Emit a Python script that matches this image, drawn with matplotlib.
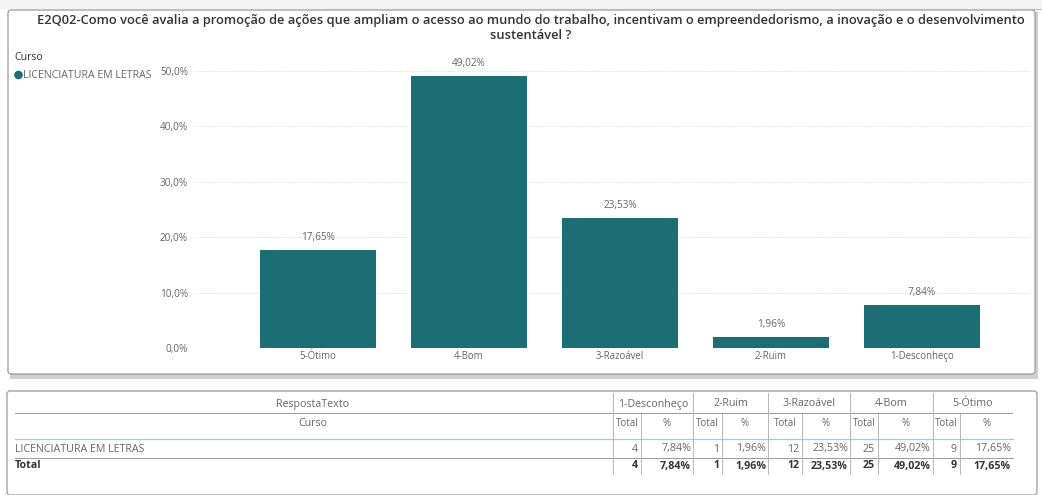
import matplotlib
matplotlib.use("Agg")
import matplotlib.pyplot as plt
from matplotlib.patches import FancyBboxPatch, Rectangle
from matplotlib.lines import Line2D

plt.rcParams['font.family'] = ['Open Sans', 'DejaVu Sans']

# ---- data -------------------------------------------------------------
title = ("E2Q02-Como você avalia a promoção de ações que ampliam o acesso ao mundo do trabalho, "
         "incentivam o empreendedorismo, a inovação e o desenvolvimento\nsustentável ?")
legend_title = "Curso"
series_name = "LICENCIATURA EM LETRAS"
chart_categories = ["5-Ótimo", "4-Bom", "3-Razoável", "2-Ruim", "1-Desconheço"]
chart_percent = [17.65, 49.02, 23.53, 1.96, 7.84]
y_ticks = [0, 10, 20, 30, 40, 50]

table_categories = ["1-Desconheço", "2-Ruim", "3-Razoável", "4-Bom", "5-Ótimo"]
table_totals = [4, 1, 12, 25, 9]
table_percent = [7.84, 1.96, 23.53, 49.02, 17.65]
row_label = "LICENCIATURA EM LETRAS"
total_label = "Total"

BAR = "#1b6e73"
GRID = "#d9d9d9"
TXT = "#666666"
DARK = "#333333"

W, H = 1042, 495
fig = plt.figure(figsize=(W / 100, H / 100), dpi=100)
fig.patch.set_facecolor("white")

# overlay in pixel coordinates for panels, headers and the table
ov = fig.add_axes([0, 0, 1, 1], zorder=0)
ov.set_xlim(0, W)
ov.set_ylim(H, 0)
ov.axis("off")


def fmt(v, d=2):
    return f"{v:.{d}f}".replace(".", ",") + "%"


# top strip
ov.add_patch(Rectangle((0, 0), W, 9, facecolor="#f3f3f3", edgecolor="none"))
ov.add_line(Line2D([325, W], [9, 9], color="#bbbbbb", lw=0.8))

# chart panel with shadow
ov.add_patch(Rectangle((10, 12), 1028, 367, facecolor="#cfcfcf", edgecolor="none"))
ov.add_patch(FancyBboxPatch((8, 10), 1027, 364, boxstyle="round,pad=0,rounding_size=3",
                            facecolor="white", edgecolor="#9a9a9a", lw=0.9))

# table panel
ov.add_patch(FancyBboxPatch((7, 391), 1030, 104, boxstyle="round,pad=0,rounding_size=3",
                            facecolor="white", edgecolor="#9a9a9a", lw=0.9))

# chart title and legend
ov.text(531, 28, title, ha="center", va="center", fontsize=9.3, color=DARK,
        fontweight="semibold", linespacing=1.25)
ov.text(14, 58, legend_title, ha="left", va="center", fontsize=7.6, color=DARK)
ov.add_patch(plt.Circle((18.5, 75), 3.6, color=BAR))
ov.text(23, 75, series_name, ha="left", va="center", fontsize=7.6, color=TXT)

# ---- bar chart -------------------------------------------------------
x0, x1 = 195, 1030
ytop, ybot = 71, 348
ax = fig.add_axes([x0 / W, 1 - ybot / H, (x1 - x0) / W, (ybot - ytop) / H], zorder=2)
ax.patch.set_alpha(0)
xs = list(range(len(chart_categories)))
bars = ax.bar(xs, chart_percent, width=0.77, color=BAR, zorder=3)
ax.set_xlim(-0.815, 4.715)
ax.set_ylim(0, 50)
ax.set_yticks(y_ticks)
ax.set_yticklabels([fmt(t, 1) for t in y_ticks], fontsize=7.2, color=TXT)
ax.set_xticks(xs)
ax.set_xticklabels(chart_categories, fontsize=6.9, color=TXT)
ax.tick_params(length=0, pad=2)
ax.tick_params(axis="y", pad=5)
ax.grid(axis="y", color=GRID, lw=0.7, ls=(0, (1, 1.5)), zorder=0)
for s in ax.spines.values():
    s.set_visible(False)
for b, v in zip(bars, chart_percent):
    ax.annotate(fmt(v), (b.get_x() + b.get_width() / 2, v), xytext=(0, 5),
                textcoords="offset points", ha="center", va="bottom",
                fontsize=7.2, color=TXT, clip_on=False)

# ---- matrix table ----------------------------------------------------
col_left = [613, 693, 768, 850, 933]
col_mid = [641, 722, 802, 878, 960]
col_right = [693, 768, 850, 933, 1013]
y_h1, y_h2, y_row, y_tot = 404, 424, 449, 466
line_h1, line_blue, line_row, bottom = 413, 439, 458, 474
FS = 7.7

ov.text(313, y_h1, "RespostaTexto", ha="center", va="center", fontsize=FS, color=TXT)
ov.text(313, y_h2, "Curso", ha="center", va="center", fontsize=FS, color=TXT)
ov.add_line(Line2D([15, 612], [line_h1, line_h1], color="#9a9a9a", lw=0.7))
ov.add_line(Line2D([15, 1013], [line_blue, line_blue], color="#9fcbe6", lw=0.9))
ov.add_line(Line2D([15, 1013], [line_row, line_row], color="#9a9a9a", lw=0.7))
ov.add_patch(Rectangle((15, line_blue + 0.5), 998, line_row - line_blue - 1,
                       facecolor="#fffdf7", edgecolor="none", zorder=0))
ov.text(15, y_row, row_label, ha="left", va="center", fontsize=FS, color=TXT)
ov.text(15, y_tot, total_label, ha="left", va="center", fontsize=FS, color=DARK,
        fontweight="bold")

for i, cat in enumerate(table_categories):
    l, m, r = col_left[i], col_mid[i], col_right[i]
    ov.text((l + r) / 2, y_h1, cat, ha="center", va="center", fontsize=FS, color=TXT)
    ov.add_line(Line2D([l + 1, r - 1], [line_h1, line_h1], color="#9a9a9a", lw=0.7))
    ov.add_line(Line2D([l, l], [393, bottom], color="#b8b8b8", lw=0.7))
    ov.add_line(Line2D([m, m], [line_h1 + 1, bottom], color="#b8b8b8", lw=0.7))
    ov.text((l + m) / 2, y_h2, "Total", ha="center", va="center", fontsize=7, color=TXT)
    ov.text((m + r) / 2, y_h2, "%", ha="center", va="center", fontsize=7, color=TXT)
    ov.text(m - 3, y_row, str(table_totals[i]), ha="right", va="center", fontsize=FS, color=TXT)
    ov.text(r - 2, y_row, fmt(table_percent[i]), ha="right", va="center", fontsize=FS, color=TXT)
    ov.text(m - 3, y_tot, str(table_totals[i]), ha="right", va="center", fontsize=FS,
            color=DARK, fontweight="bold")
    ov.text(r - 2, y_tot, fmt(table_percent[i]), ha="right", va="center", fontsize=FS,
            color=DARK, fontweight="bold")

fig.savefig("out.png", dpi=100, facecolor="white")
